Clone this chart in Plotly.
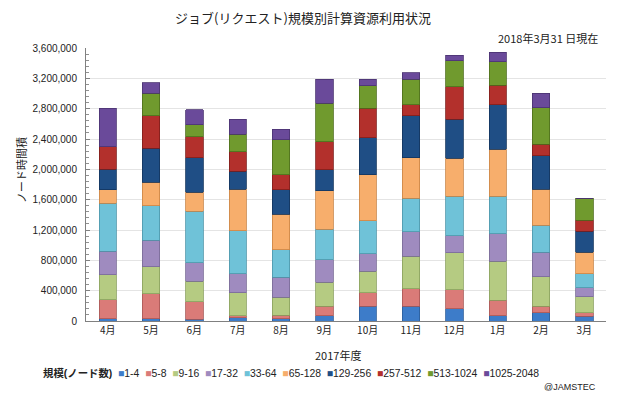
import plotly.graph_objects as go

months = ["4月", "5月", "6月", "7月", "8月", "9月", "10月", "11月", "12月", "1月", "2月", "3月"]

series_names = ["1-4", "5-8", "9-16", "17-32", "33-64", "65-128",
                "129-256", "257-512", "513-1024", "1025-2048"]

s_1_4 = [29000, 33000, 20000, 42000, 33000, 72000, 195000, 195000, 161000, 72000, 108000, 63000]
s_5_8 = [254000, 329000, 233000, 30000, 43000, 122000, 176000, 233000, 254000, 201000, 87000, 45000]
s_9_16 = [329000, 351000, 271000, 299000, 237000, 316000, 284000, 425000, 483000, 513000, 387000, 211000]
s_17_32 = [307000, 351000, 242000, 250000, 263000, 299000, 233000, 321000, 228000, 365000, 324000, 118000]
s_33_64 = [637000, 456000, 679000, 570000, 365000, 404000, 434000, 448000, 517000, 491000, 355000, 188000]
s_65_128 = [175000, 307000, 250000, 549000, 470000, 504000, 605000, 534000, 505000, 624000, 479000, 280000]
s_129_256 = [272000, 453000, 461000, 232000, 320000, 276000, 491000, 549000, 513000, 583000, 438000, 276000]
s_257_512 = [298000, 425000, 276000, 263000, 197000, 373000, 387000, 145000, 429000, 263000, 154000, 145000]
s_513_1024 = [0, 299000, 154000, 229000, 461000, 505000, 294000, 338000, 342000, 307000, 482000, 295000]
s_1025_2048 = [505000, 139000, 197000, 197000, 141000, 316000, 88000, 87000, 75000, 124000, 190000, 0]

y_ticks = [0, 400000, 800000, 1200000, 1600000, 2000000, 2400000, 2800000, 3200000, 3600000]

all_series = [s_1_4, s_5_8, s_9_16, s_17_32, s_33_64, s_65_128,
              s_129_256, s_257_512, s_513_1024, s_1025_2048]

colors = ["#3D7CC9", "#DA7B78", "#B5CB82", "#9F8BBF", "#6FC2D8",
          "#F7AE6C", "#1F4E85", "#B3302C", "#709A2E", "#6A4A9A"]
edges = ["#2A5C9A", "#A85855", "#8AA05E", "#786A96", "#4E96AA",
         "#C98446", "#13345C", "#7E1E1B", "#4E6E1C", "#4A3270"]

FONT = "Liberation Sans, Noto Sans CJK JP, sans-serif"
JFONT = "Noto Sans CJK JP, Liberation Sans, sans-serif"

fig = go.Figure()
for name, vals, c, e in zip(series_names, all_series, colors, edges):
    fig.add_trace(go.Bar(
        x=months, y=vals, name=name,
        marker=dict(color=c, line=dict(color=e, width=0.8)),
        showlegend=False,
    ))

# legend drawn as a single text line (compact, like the original)
legend_parts = ["<b>規模(ノード数)</b>"]
for name, c in zip(series_names, colors):
    legend_parts.append(f"<span style='color:{c}'>■</span>{name}")
legend_text = "&nbsp;&nbsp;".join(legend_parts)

L, R, T, B = 86, 34, 48, 75
W, H = 640, 396
pw = W - L - R
ph = H - T - B


def px_x(x):
    return (x - L) / pw


def px_y(y):
    return (H - B - y) / ph


fig.update_layout(
    width=W, height=H,
    margin=dict(l=L, r=R, t=T, b=B),
    barmode="stack",
    bargap=0.6,
    paper_bgcolor="white",
    plot_bgcolor="white",
    font=dict(family=FONT, size=10, color="#222222"),
    title=dict(text="ジョブ(リクエスト)規模別計算資源利用状況",
               x=303 / W, xref="container", xanchor="center",
               y=1 - 18 / H, yanchor="middle",
               font=dict(family=JFONT, size=13, color="#222222")),
    xaxis=dict(
        showline=True, linecolor="#808080", linewidth=1,
        ticks="", tickfont=dict(family=JFONT, size=10, color="#222222"),
        showgrid=False,
    ),
    yaxis=dict(
        range=[0, 3600000], tickvals=y_ticks, tickformat=",",
        showline=True, linecolor="#808080", linewidth=1,
        ticks="inside", ticklen=4, tickcolor="#808080",
        minor=dict(dtick=80000, ticks="inside", ticklen=3, tickcolor="#909090", showgrid=False),
        gridcolor="#E4E4E4", gridwidth=1,
        tickfont=dict(family=FONT, size=10, color="#222222"),
        ticklabelstandoff=6,
        zeroline=False,
    ),
    annotations=[
        dict(text="2018年3月31 日現在", xref="paper", yref="paper",
             x=px_x(600), y=px_y(38), xanchor="right", yanchor="middle",
             showarrow=False, font=dict(family=JFONT, size=11, color="#222222")),
        dict(text="ノード時間積", xref="paper", yref="paper",
             x=px_x(21), y=px_y(170), xanchor="center", yanchor="middle",
             textangle=-90, showarrow=False,
             font=dict(family=JFONT, size=11, color="#222222")),
        dict(text="2017年度", xref="paper", yref="paper",
             x=px_x(338), y=px_y(355), xanchor="center", yanchor="middle",
             showarrow=False, font=dict(family=JFONT, size=11, color="#222222")),
        dict(text=legend_text, xref="paper", yref="paper",
             x=px_x(41), y=px_y(373), xanchor="left", yanchor="middle",
             showarrow=False, font=dict(family=FONT, size=10.4, color="#222222")),
        dict(text="@JAMSTEC", xref="paper", yref="paper",
             x=px_x(598), y=px_y(387), xanchor="right", yanchor="middle",
             showarrow=False, font=dict(family=FONT, size=9, color="#222222")),
    ],
)

fig.write_html("out.html",
               config={"displayModeBar": False, "staticPlot": True},
               post_script="document.body.style.margin='0';document.body.style.overflow='hidden';")
